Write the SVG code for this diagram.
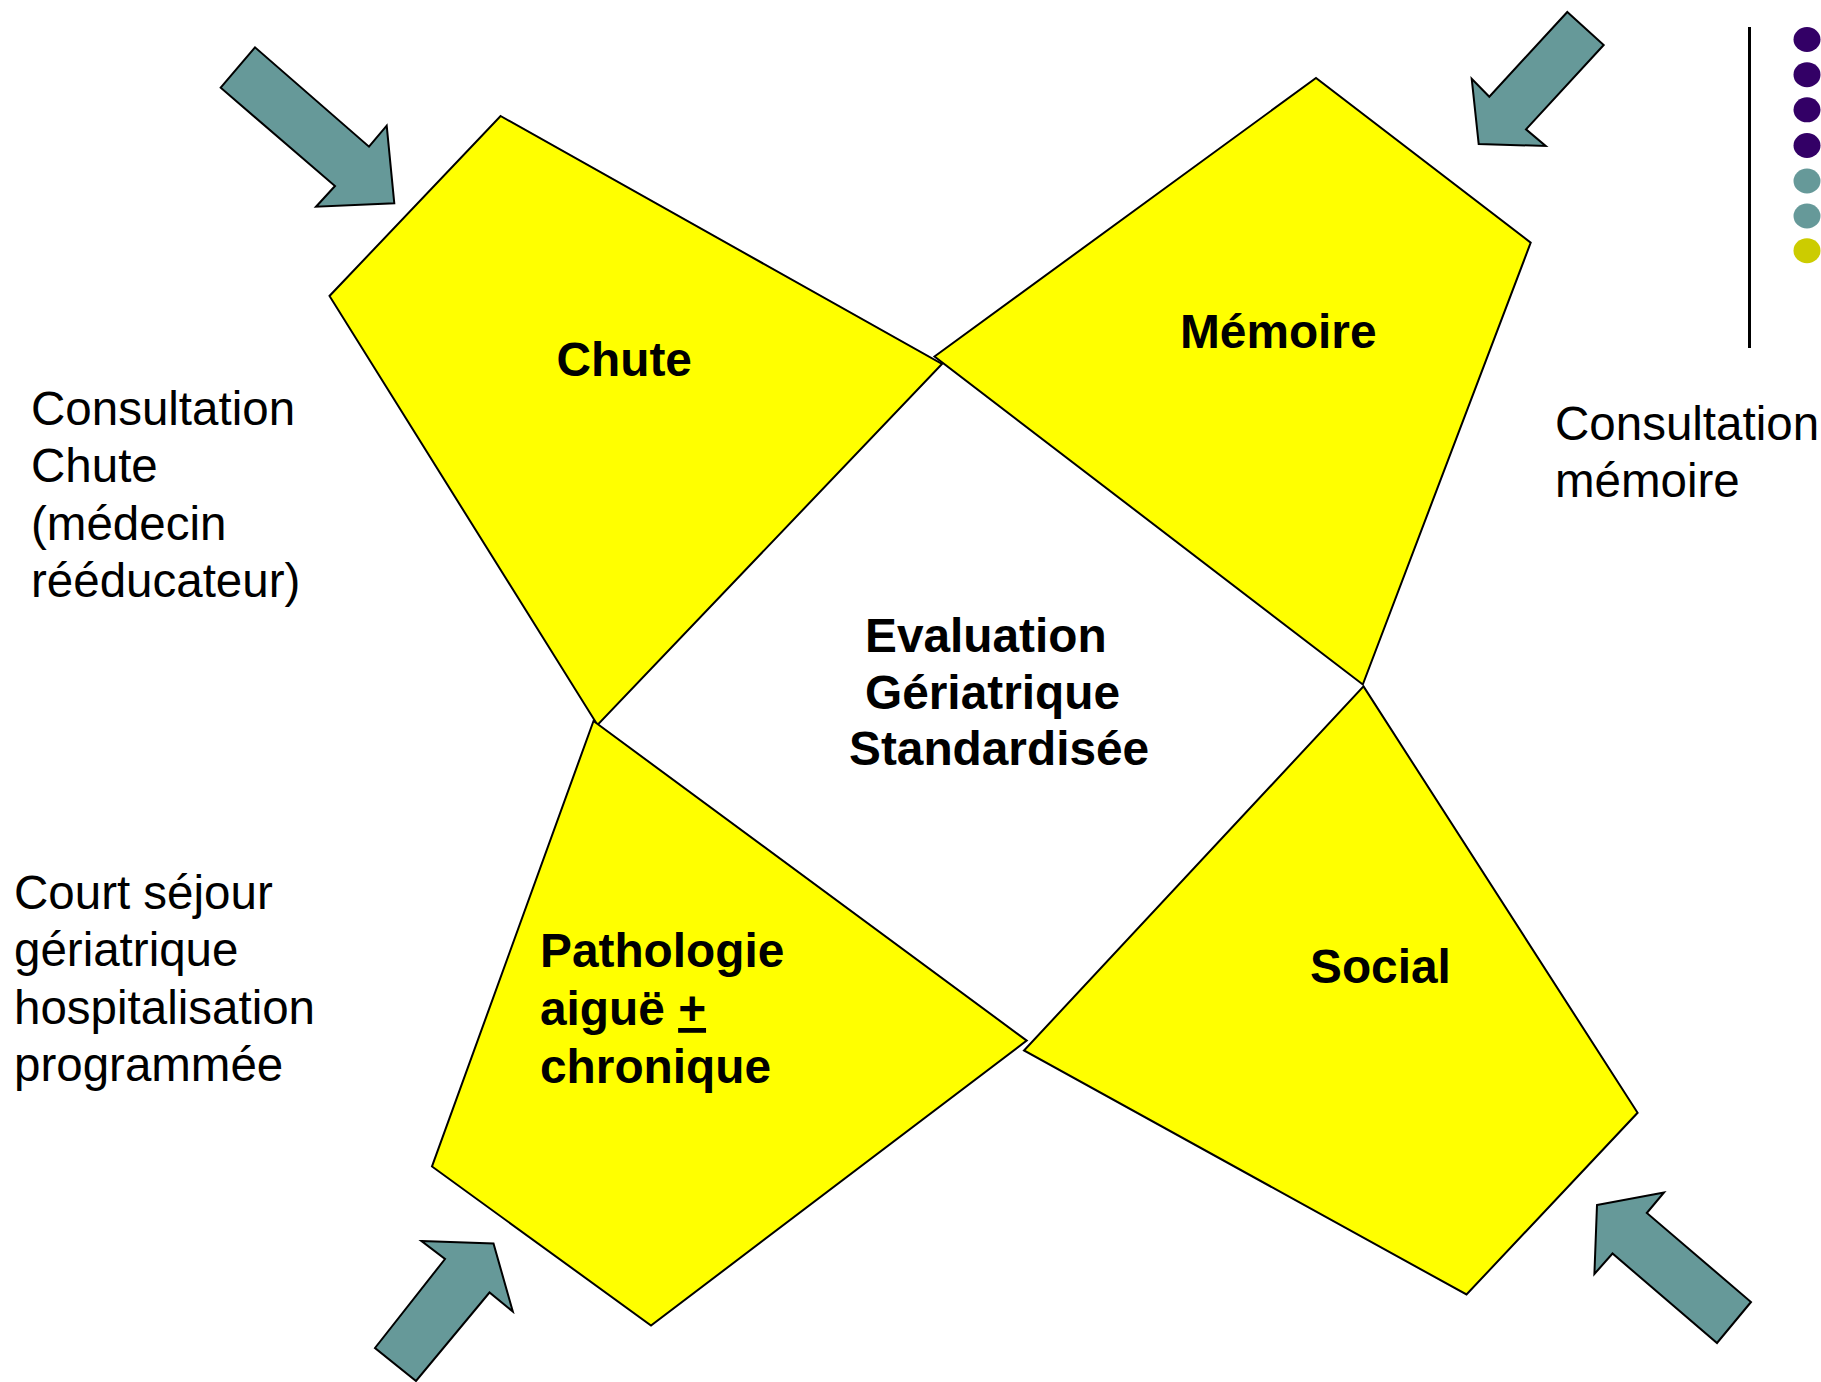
<svg xmlns="http://www.w3.org/2000/svg" width="1821" height="1382" viewBox="0 0 1821 1382">
<style>
.pent{fill:#FFFF00;stroke:#000;stroke-width:2;stroke-linejoin:miter}
.arr{fill:#669999;stroke:#000;stroke-width:2;stroke-linejoin:miter}
.lbl{font-family:"Liberation Sans",Arial,sans-serif;font-weight:bold;font-size:47.8px;fill:#000}
.side{font-family:"Liberation Sans",Arial,sans-serif;font-size:47.5px;fill:#000}
</style>
<rect width="1821" height="1382" fill="#fff"/>
<g id="legend">
<line x1="1749.5" y1="27" x2="1749.5" y2="348" stroke="#000" stroke-width="3"/>
<ellipse cx="1807" cy="39.5" rx="13.5" ry="12.5" fill="#330066"/>
<ellipse cx="1807" cy="74.7" rx="13.5" ry="12.5" fill="#330066"/>
<ellipse cx="1807" cy="109.8" rx="13.5" ry="12.5" fill="#330066"/>
<ellipse cx="1807" cy="145.5" rx="13.5" ry="12.5" fill="#330066"/>
<ellipse cx="1807" cy="181" rx="13.5" ry="12.5" fill="#669999"/>
<ellipse cx="1807" cy="216" rx="13.5" ry="12.5" fill="#669999"/>
<ellipse cx="1807" cy="250.7" rx="13.5" ry="12.5" fill="#CCCC00"/>
</g>
<g id="node-chute">
<polygon class="pent" points="500.6,116 942,364 597.5,725 329.5,296"/>
<text class="lbl" x="556.5" y="376">Chute</text>
</g>
<g id="node-memoire">
<polygon class="pent" points="934.5,356.5 1316,78 1530.7,242.7 1362.8,684.5"/>
<text class="lbl" x="1180" y="348">Mémoire</text>
</g>
<g id="node-pathologie">
<polygon class="pent" points="593.5,721 1026.7,1040.6 651,1325.5 432,1166.5"/>
<text class="lbl" x="540" y="967">Pathologie</text>
<text class="lbl" x="540" y="1025">aiguë <tspan text-decoration="underline">+</tspan></text>
<text class="lbl" x="540" y="1083">chronique</text>
</g>
<g id="node-social">
<polygon class="pent" points="1363.5,686.4 1637.6,1112.8 1466.5,1294.5 1024,1050.5"/>
<text class="lbl" x="1310" y="983">Social</text>
</g>
<g id="node-center">
<text class="lbl" x="865" y="652">Evaluation</text>
<text class="lbl" x="865" y="709">Gériatrique</text>
<text class="lbl" x="849" y="765">Standardisée</text>
</g>
<g id="side-labels">
<text class="side" x="31" y="425">Consultation</text>
<text class="side" x="31" y="482">Chute</text>
<text class="side" x="31" y="540">(médecin</text>
<text class="side" x="31" y="597">rééducateur)</text>
<text class="side" x="1555" y="440">Consultation</text>
<text class="side" x="1555" y="497">mémoire</text>
<text class="side" x="14" y="909">Court séjour</text>
<text class="side" x="14" y="966">gériatrique</text>
<text class="side" x="14" y="1024">hospitalisation</text>
<text class="side" x="14" y="1081">programmée</text>
</g>
<g id="connectors">
<polygon class="arr" points="255,47.3 220.7,87.7 335,186 316,206.7 394.3,203.3 386.7,125.7 369,146.7"/>
<polygon class="arr" points="1567.3,12 1603.7,45 1526,129.3 1545.7,146 1478.7,144 1471.7,78.7 1489.3,96.7"/>
<polygon class="arr" points="421.5,1241 493.5,1243.5 512.8,1311.5 489.5,1292.5 416,1381 375,1348 445,1259"/>
<polygon class="arr" points="1597,1205 1664,1192.5 1646.8,1213 1751,1302 1717,1343 1612.5,1253.5 1594.4,1274"/>
</g>
</svg>
